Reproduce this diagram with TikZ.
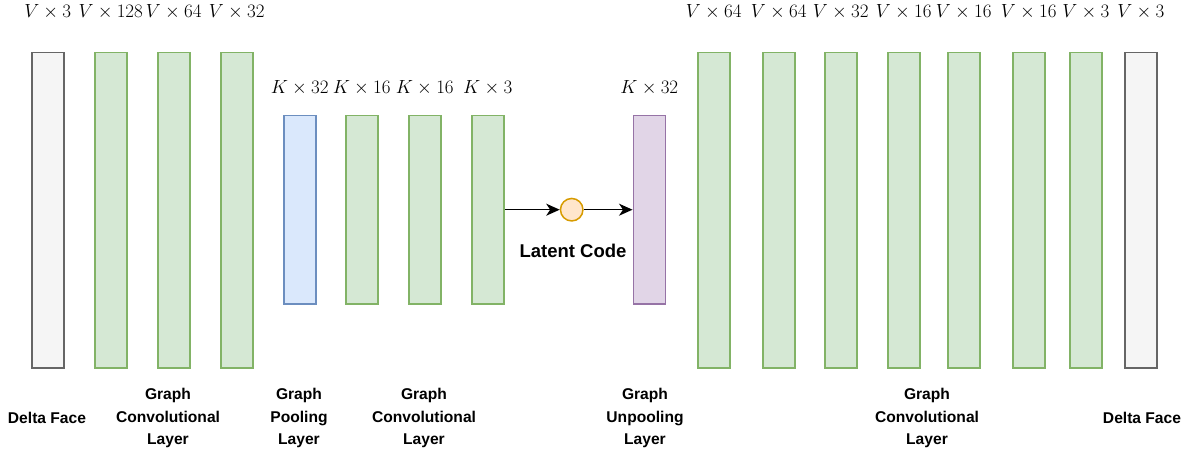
\RequirePackage{fix-cm}
\documentclass[tikz,border=0pt]{standalone}
\usepackage{fontspec}
\setmainfont{Liberation Sans}
\usetikzlibrary{arrows.meta}
\definecolor{gfill}{HTML}{D5E8D4}\definecolor{gline}{HTML}{82B366}
\definecolor{bfill}{HTML}{DAE8FC}\definecolor{bline}{HTML}{6C8EBF}
\definecolor{pfill}{HTML}{E1D5E7}\definecolor{pline}{HTML}{9673A6}
\definecolor{wfill}{HTML}{F5F5F5}\definecolor{wline}{HTML}{666666}
\definecolor{ofill}{HTML}{FFE6CC}\definecolor{oline}{HTML}{D79B00}
\tikzset{
  bar/.style={rectangle, inner sep=0pt, line width=1.5pt, minimum width=32pt, anchor=north west},
  tall/.style={bar, minimum height=315pt},
  short/.style={bar, minimum height=188pt},
  gbar/.style={fill=gfill, draw=gline},
  bbar/.style={fill=bfill, draw=bline},
  pbar/.style={fill=pfill, draw=pline},
  wbar/.style={fill=wfill, draw=wline},
  dimlbl/.style={font=\fontsize{19}{23}\selectfont, inner sep=0pt},
  lbl/.style={font=\fontsize{15.6}{22.5}\selectfont\bfseries, align=center, inner sep=0pt},
  arr/.style={line width=1.4pt, -{Stealth[length=13.5pt, width=12pt, inset=4pt]}},
}
\begin{document}
\begin{tikzpicture}[x=1pt, y=-1pt]
\useasboundingbox (0,0) rectangle (1190,457);
% left tall bars
\node[tall, wbar] (b1) at (31,52) {};
\node[tall, gbar] (b2) at (94,52) {};
\node[tall, gbar] (b3) at (157,52) {};
\node[tall, gbar] (b4) at (220,52) {};
% short bars
\node[short, bbar] (b5) at (283,115) {};
\node[short, gbar] (b6) at (345,115) {};
\node[short, gbar] (b7) at (408,115) {};
\node[short, gbar] (b8) at (471,115) {};
\node[short, pbar] (b9) at (632.5,115) {};
% right tall bars
\node[tall, gbar] (r1) at (697,52) {};
\node[tall, gbar] (r2) at (762,52) {};
\node[tall, gbar] (r3) at (824,52) {};
\node[tall, gbar] (r4) at (887,52) {};
\node[tall, gbar] (r5) at (947,52) {};
\node[tall, gbar] (r6) at (1012,52) {};
\node[tall, gbar] (r7) at (1069,52) {};
\node[tall, wbar] (r8) at (1124,52) {};
% latent
\node[circle, minimum size=22.5pt, inner sep=0pt, fill=ofill, draw=oline, line width=1.5pt] (lc) at (571.7,209.7) {};
\draw[arr] (b8.east |- lc) -- (lc.west);
\draw[arr] (lc.east) -- (b9.west |- lc);
\node[font=\fontsize{18.5}{22}\selectfont\bfseries, inner sep=0pt] (lct) at (573,251) {Latent Code};
% top labels
\node[dimlbl] (t1) at (b1.north |- 0,12) {$V\times 3$};
\node[dimlbl] (t2) at (b2.north |- 0,12) {$V\times 128$};
\node[dimlbl] (t3) at (b3.north |- 0,12) {$V\times 64$};
\node[dimlbl] (t4) at (b4.north |- 0,12) {$V\times 32$};
\node[dimlbl] (t5) at (b5.north |- 0,88) {$K\times 32$};
\node[dimlbl] (t6) at (b6.north |- 0,88) {$K\times 16$};
\node[dimlbl] (t7) at (b7.north |- 0,88) {$K\times 16$};
\node[dimlbl] (t8) at (b8.north |- 0,88) {$K\times 3$};
\node[dimlbl] (t9) at (b9.north |- 0,88) {$K\times 32$};
\node[dimlbl] (u1) at (r1.north |- 0,12) {$V\times 64$};
\node[dimlbl] (u2) at (r2.north |- 0,12) {$V\times 64$};
\node[dimlbl] (u3) at (r3.north |- 0,12) {$V\times 32$};
\node[dimlbl] (u4) at (r4.north |- 0,12) {$V\times 16$};
\node[dimlbl] (u5) at (r5.north |- 0,12) {$V\times 16$};
\node[dimlbl] (u6) at (r6.north |- 0,12) {$V\times 16$};
\node[dimlbl] (u7) at (r7.north |- 0,12) {$V\times 3$};
\node[dimlbl] (u8) at (r8.north |- 0,12) {$V\times 3$};
% bottom labels
\node[lbl] (c1) at (47,418) {Delta Face};
\node[lbl] (c2) at (168,418) {Graph\\Convolutional\\Layer};
\node[lbl] (c3) at (299,418) {Graph\\Pooling\\Layer};
\node[lbl] (c4) at (424,418) {Graph\\Convolutional\\Layer};
\node[lbl] (c5) at (645,418) {Graph\\Unpooling\\Layer};
\node[lbl] (c6) at (927,418) {Graph\\Convolutional\\Layer};
\node[lbl] (c7) at (1142,418) {Delta Face};
\end{tikzpicture}
\end{document}
